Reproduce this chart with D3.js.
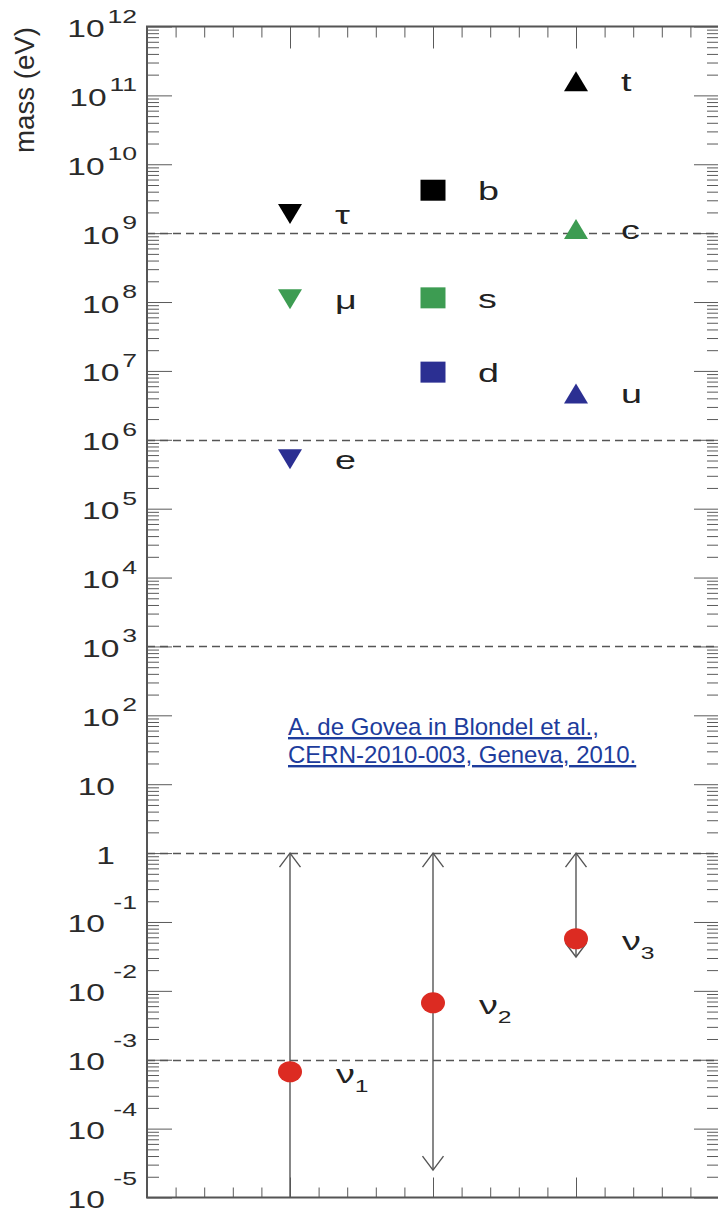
<!DOCTYPE html>
<meta charset="utf-8">
<style>
body { margin: 0; background: #fff; }
text { font-family: "Liberation Sans", Arial, sans-serif; }
</style>
<svg width="718" height="1210"></svg>
<script src="https://cdn.jsdelivr.net/npm/d3@7"></script>
<script>

// x positions of the three columns
var columns = [1, 2, 3];

// charged leptons, down-type and up-type quarks (eV), ordered by generation
var leptonNames = ["e", "μ", "τ"];
var leptonMass = [5.2e5, 1.1e8, 1.9e9];
var downNames = ["d", "s", "b"];
var downMass = [9.6e6, 1.15e8, 4.2e9];
var upNames = ["u", "c", "t"];
var upMass = [4.7e6, 1.15e9, 1.6e11];

// neutrinos: point plus allowed range
var nuNames = ["1", "2", "3"];
var nuMass = [6.7e-4, 6.7e-3, 0.057];
var nuHigh = [1, 1, 1];
var nuLow = [1e-5, 2.5e-5, 0.031];

var dashedAt = [1e9, 1e6, 1e3, 1, 1e-3];
var yExponents = [-5, -4, -3, -2, -1, 0, 1, 2, 3, 4, 5, 6, 7, 8, 9, 10, 11, 12];
var citation = ["A. de Govea in Blondel et al.,", "CERN-2010-003, Geneva, 2010."];

var svg = d3.select("svg");

var x = d3.scaleLinear().domain([0, 4]).range([147, 719]);
var y = d3.scaleLog().domain([1e-5, 1e12]).range([1197.5, 26.5]);
var genColor = d3.scaleOrdinal().domain([0, 1, 2]).range(["#2b2f92", "#3d9c52", "#000000"]);

var isDecade = function(v) {
  var l = Math.log10(v);
  return Math.abs(l - Math.round(l)) < 1e-6;
};
var yTicks = y.ticks(20);
var yMinor = yTicks.filter(function(v) { return !isDecade(v); });
var yMajor = yTicks.filter(isDecade);
var xMinor = d3.range(1, 20).map(function(i) { return i / 5; }).filter(function(v) { return columns.indexOf(v) < 0; });

function styleTicks(g) {
  g.select(".domain").remove();
  g.selectAll(".tick line").attr("stroke", "#5a5a5a").attr("stroke-width", 1);
}

// frame ticks
var xL = x(0), xR = x(4), yT = y(1e12), yB = y(1e-5);
svg.append("g").attr("transform", "translate(" + xL + ",0)")
  .call(d3.axisRight(y).tickValues(yMinor).tickSize(12).tickFormat("")).call(styleTicks);
svg.append("g").attr("transform", "translate(" + xL + ",0)")
  .call(d3.axisRight(y).tickValues(yMajor).tickSize(25).tickFormat("")).call(styleTicks);
svg.append("g").attr("transform", "translate(" + xR + ",0)")
  .call(d3.axisLeft(y).tickValues(yMinor).tickSize(12).tickFormat("")).call(styleTicks);
svg.append("g").attr("transform", "translate(" + xR + ",0)")
  .call(d3.axisLeft(y).tickValues(yMajor).tickSize(25).tickFormat("")).call(styleTicks);
svg.append("g").attr("transform", "translate(0," + yT + ")")
  .call(d3.axisBottom(x).tickValues(xMinor).tickSize(11).tickFormat("")).call(styleTicks);
svg.append("g").attr("transform", "translate(0," + yT + ")")
  .call(d3.axisBottom(x).tickValues(columns).tickSize(22).tickFormat("")).call(styleTicks);
svg.append("g").attr("transform", "translate(0," + yB + ")")
  .call(d3.axisTop(x).tickValues(xMinor).tickSize(10).tickFormat("")).call(styleTicks);
svg.append("g").attr("transform", "translate(0," + yB + ")")
  .call(d3.axisTop(x).tickValues(columns).tickSize(20).tickFormat("")).call(styleTicks);

svg.append("rect")
  .attr("x", xL).attr("y", yT)
  .attr("width", xR - xL).attr("height", yB - yT)
  .attr("fill", "none").attr("stroke", "#555").attr("stroke-width", 2);

// dashed guide lines
svg.selectAll(".guide").data(dashedAt).enter().append("line")
  .attr("x1", xL).attr("x2", xR)
  .attr("y1", function(d) { return Math.round(y(d)) + 0.5; })
  .attr("y2", function(d) { return Math.round(y(d)) + 0.5; })
  .attr("stroke", "#555").attr("stroke-width", 1.3).attr("stroke-dasharray", "8,5");

// y tick labels
yExponents.forEach(function(e) {
  var ty = y(Math.pow(10, e));
  if (e === 0 || e === 1) {
    svg.append("text")
      .attr("transform", "translate(115," + (ty + 10.5) + ") scale(1.4,1)")
      .attr("text-anchor", "end").attr("font-size", 24).attr("fill", "#2a2a2a")
      .text(e === 0 ? "1" : "10");
    return;
  }
  var t = svg.append("text")
    .attr("transform", "translate(137," + (ty + 10.5) + ") scale(1.4,1)")
    .attr("text-anchor", "end").attr("font-size", 24).attr("fill", "#2a2a2a");
  t.append("tspan").text("10");
  t.append("tspan").attr("font-size", 19)
    .attr("dx", e < 0 ? 6 : 2)
    .attr("dy", e < 0 ? -23.5 : -14.5)
    .text(String(e));
});

svg.append("text")
  .attr("transform", "translate(34,90) rotate(-90)")
  .attr("text-anchor", "middle").attr("font-size", 27).attr("fill", "#2a2a2a")
  .attr("textLength", 126).attr("lengthAdjust", "spacingAndGlyphs")
  .text("mass (eV)");

// markers
function triangle(cx, cy, up) {
  var w = 12, h = 10, s = up ? 1 : -1;
  return "M" + (cx - w) + "," + (cy + s * h) + "L" + (cx + w) + "," + (cy + s * h) + "L" + cx + "," + (cy - s * h) + "Z";
}
function square(cx, cy) {
  var w = 12.5, h = 10.5;
  return "M" + (cx - w) + "," + (cy - h) + "h" + 2 * w + "v" + 2 * h + "h" + (-2 * w) + "Z";
}

function drawGroup(col, names, masses, shape) {
  names.forEach(function(n, i) {
    var cx = x(col), cy = y(masses[i]);
    svg.append("path").attr("d", shape(cx, cy)).attr("fill", genColor(i));
    svg.append("text")
      .attr("transform", "translate(" + (cx + 45) + "," + (cy + 10) + ") scale(1.45,1)")
      .attr("font-size", 26).attr("fill", "#222")
      .text(n);
  });
}
drawGroup(columns[0], leptonNames, leptonMass, function(cx, cy) { return triangle(cx, cy, false); });
drawGroup(columns[1], downNames, downMass, square);
drawGroup(columns[2], upNames, upMass, function(cx, cy) { return triangle(cx, cy, true); });

// neutrinos
nuNames.forEach(function(n, i) {
  var cx = x(columns[i]);
  var yt = y(nuHigh[i]), yb = y(nuLow[i]);
  var g = svg.append("g").attr("stroke", "#555").attr("stroke-width", 1.4).attr("fill", "none");
  g.append("line").attr("x1", cx).attr("x2", cx).attr("y1", yt).attr("y2", yb);
  g.append("path").attr("d", "M" + (cx - 10.5) + "," + (yt + 14) + "L" + cx + "," + yt + "L" + (cx + 10.5) + "," + (yt + 14));
  if (nuLow[i] > y.domain()[0]) {
    g.append("path").attr("d", "M" + (cx - 10.5) + "," + (yb - 14) + "L" + cx + "," + yb + "L" + (cx + 10.5) + "," + (yb - 14));
  }
  var cy = y(nuMass[i]);
  svg.append("ellipse").attr("cx", cx).attr("cy", cy).attr("rx", 12).attr("ry", 10.5).attr("fill", "#dc2b22");
  var t = svg.append("text")
    .attr("transform", "translate(" + (cx + 46) + "," + (cy + 11) + ") scale(1.45,1)")
    .attr("font-size", 26).attr("fill", "#222");
  t.append("tspan").text("ν");
  t.append("tspan").attr("font-size", 17).attr("dy", 9).text(n);
});

// citation link
svg.selectAll(".cite").data(citation).enter().append("text")
  .attr("x", 288).attr("y", function(d, i) { return 735 + i * 28; })
  .attr("font-size", 24).attr("fill", "#1d3c9c")
  .attr("text-decoration", "underline")
  .text(function(d) { return d; });

</script>
